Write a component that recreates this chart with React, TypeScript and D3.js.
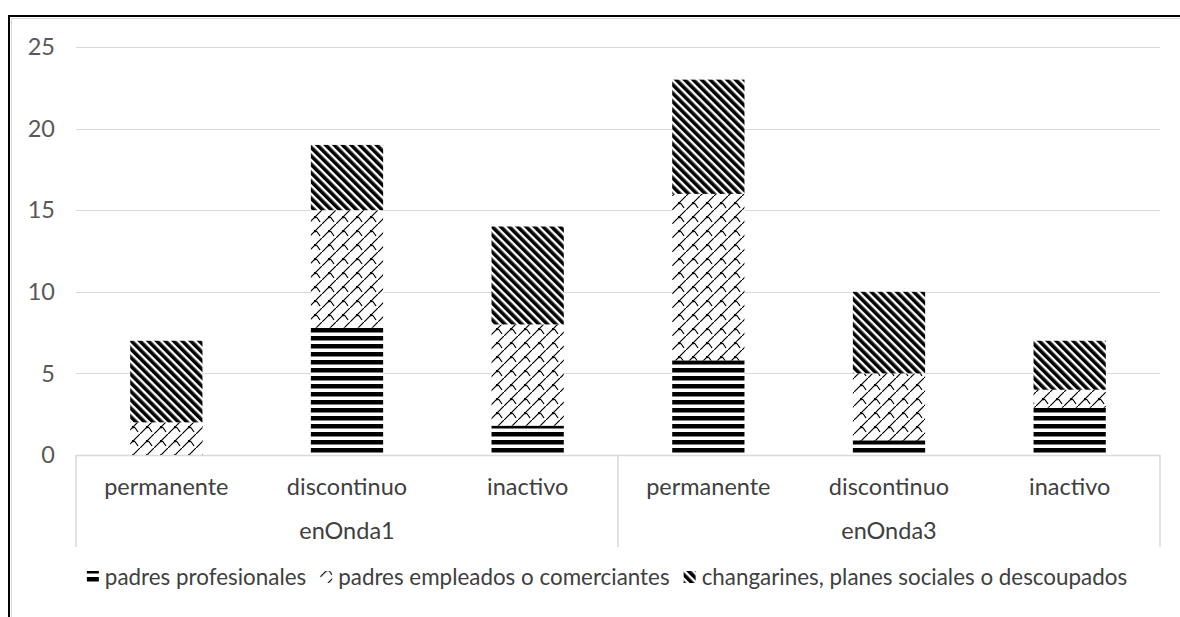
import React, { useEffect, useRef } from 'react';
import * as d3 from 'd3';

// chart values
const groups = ['enOnda1', 'enOnda3'];
const categories = ['permanente', 'discontinuo', 'inactivo'];
const seriesNames = [
  'padres profesionales',
  'padres empleados o comerciantes',
  'changarines, planes sociales o descoupados',
];
const profesionales = [0, 7.8, 1.8, 5.8, 0.9, 2.9];
const empleados = [2, 7.2, 6.2, 10.2, 4.1, 1.1];
const changarines = [5, 4, 6, 7, 5, 3];
const yTicks = [0, 5, 10, 15, 20, 25];

const patternIds = ['pat-prof', 'pat-emp', 'pat-chang'];

function App() {
  const svgRef = useRef<SVGSVGElement>(null);

  useEffect(() => {
    const width = 1180;
    const height = 617;
    const margin = { top: 47, left: 76 };
    const plotRight = 1160;
    const base = 455;

    const svg = d3.select(svgRef.current);
    svg.selectAll('*').remove();
    svg.attr('width', width).attr('height', height);

    const defs = svg.append('defs');

    // horizontal stripes
    const p1 = defs.append('pattern').attr('id', patternIds[0])
      .attr('patternUnits', 'userSpaceOnUse').attr('width', 8).attr('height', 8);
    p1.append('rect').attr('width', 8).attr('height', 8).attr('fill', '#fff');
    p1.append('rect').attr('y', 0).attr('width', 8).attr('height', 4.5).attr('fill', '#000');

    // shingle-like: up-right diagonals with short stubs
    const p2 = defs.append('pattern').attr('id', patternIds[1])
      .attr('patternUnits', 'userSpaceOnUse').attr('width', 14).attr('height', 14);
    p2.append('rect').attr('width', 14).attr('height', 14).attr('fill', '#fff');
    p2.append('path')
      .attr('d', 'M-1,15 L15,-1 M7,7 Q9,7 10,9 L12,12')
      .attr('stroke', '#000').attr('stroke-width', 1.2).attr('fill', 'none');
    p2.append('rect').attr('x', 6).attr('y', 6).attr('width', 2.2).attr('height', 2.2).attr('fill', '#000');

    // dark downward diagonal
    const p3 = defs.append('pattern').attr('id', patternIds[2])
      .attr('patternUnits', 'userSpaceOnUse').attr('width', 6).attr('height', 6)
      .attr('patternTransform', 'rotate(-45)');
    p3.append('rect').attr('width', 6).attr('height', 6).attr('fill', '#fff');
    p3.append('rect').attr('x', 0).attr('width', 3.6).attr('height', 6).attr('fill', '#000');

    // frame
    svg.append('rect').attr('x', 0).attr('y', 0).attr('width', width).attr('height', height).attr('fill', '#fff');
    svg.append('line').attr('x1', 9).attr('x2', width).attr('y1', 16).attr('y2', 16)
      .attr('stroke', '#000').attr('stroke-width', 2);
    svg.append('line').attr('x1', 9).attr('x2', 9).attr('y1', 15).attr('y2', height)
      .attr('stroke', '#000').attr('stroke-width', 2);
    svg.append('line').attr('x1', 11.5).attr('x2', width).attr('y1', 18.5).attr('y2', 18.5)
      .attr('stroke', '#d9d9d9').attr('stroke-width', 1);
    svg.append('line').attr('x1', 11.5).attr('x2', 11.5).attr('y1', 18.5).attr('y2', height)
      .attr('stroke', '#d9d9d9').attr('stroke-width', 1);

    const keys = groups.flatMap(g => categories.map(c => `${g}|${c}`));
    const x = d3.scaleBand().domain(keys).range([margin.left, plotRight]).paddingInner(0.6).paddingOuter(0.3);
    const xOuter = d3.scaleBand().domain(keys).range([margin.left, plotRight]);
    const y = d3.scaleLinear().domain([0, 25]).range([base, margin.top]);

    const font = 'Lato, "Open Sans", sans-serif';
    const fs = 23.5;

    // grid
    svg.append('g').selectAll('line').data(yTicks.filter(t => t > 0)).enter().append('line')
      .attr('x1', margin.left).attr('x2', plotRight)
      .attr('y1', d => Math.round(y(d)) + 0.5).attr('y2', d => Math.round(y(d)) + 0.5)
      .attr('stroke', '#d9d9d9').attr('stroke-width', 1);

    svg.append('g').selectAll('text').data(yTicks).enter().append('text')
      .attr('x', 55).attr('y', d => y(d)).attr('dy', '0.35em')
      .attr('text-anchor', 'end').attr('font-family', font).attr('font-size', fs)
      .attr('fill', '#595959').text(d => d);

    // stacks
    const rows = keys.map((k, i) => ({
      key: k,
      prof: profesionales[i],
      emp: empleados[i],
      chang: changarines[i],
    }));
    const stacked = d3.stack<any>().keys(['prof', 'emp', 'chang'])(rows);

    stacked.forEach((layer, li) => {
      svg.append('g').selectAll('rect').data(layer).enter().append('rect')
        .attr('x', d => x(d.data.key)!)
        .attr('width', x.bandwidth())
        .attr('y', d => y(d[1]))
        .attr('height', d => Math.max(0, y(d[0]) - y(d[1])))
        .attr('fill', `url(#${patternIds[li]})`);
    });

    // category axis
    const axisColor = '#d9d9d9';
    svg.append('line').attr('x1', margin.left).attr('x2', plotRight)
      .attr('y1', base + 0.5).attr('y2', base + 0.5).attr('stroke', axisColor).attr('stroke-width', 1.5);
    const seps = [margin.left, xOuter(keys[3])!, plotRight];
    svg.append('g').selectAll('line').data(seps).enter().append('line')
      .attr('x1', d => d).attr('x2', d => d).attr('y1', base).attr('y2', 547)
      .attr('stroke', axisColor).attr('stroke-width', 1.5);

    svg.append('g').selectAll('text').data(keys).enter().append('text')
      .attr('x', d => xOuter(d)! + xOuter.bandwidth() / 2).attr('y', 487).attr('dy', '0.35em')
      .attr('text-anchor', 'middle').attr('font-family', font).attr('font-size', fs)
      .attr('fill', '#404040').text(d => d.split('|')[1]);

    svg.append('g').selectAll('text').data(groups).enter().append('text')
      .attr('x', (d, i) => (seps[i] + seps[i + 1]) / 2).attr('y', 531).attr('dy', '0.35em')
      .attr('text-anchor', 'middle').attr('font-family', font).attr('font-size', fs)
      .attr('fill', '#404040').text(d => d);

    // legend, laid out from measured text widths
    const lfs = 22.4;
    const lg = svg.append('g').attr('transform', 'translate(0,577)');
    const items = lg.selectAll('g').data(seriesNames).enter().append('g');
    items.append('rect').attr('y', -6).attr('width', 12).attr('height', 12)
      .attr('fill', (d, i) => `url(#${patternIds[i]})`);
    const texts = items.append('text').attr('x', 18).attr('dy', '0.35em')
      .attr('font-family', font).attr('font-size', lfs).attr('fill', '#404040')
      .text(d => d);
    const widths = texts.nodes().map(n => (n as SVGTextElement).getComputedTextLength() + 18);
    const gap = 14;
    const total = d3.sum(widths) + gap * (widths.length - 1);
    let cx = 607 - total / 2;
    items.attr('transform', (d, i) => {
      const t = `translate(${cx},0)`;
      cx += widths[i] + gap;
      return t;
    });
  }, []);

  return <svg ref={svgRef} style={{ position: 'absolute', left: 0, top: 0 }}></svg>;
}

export default App;
